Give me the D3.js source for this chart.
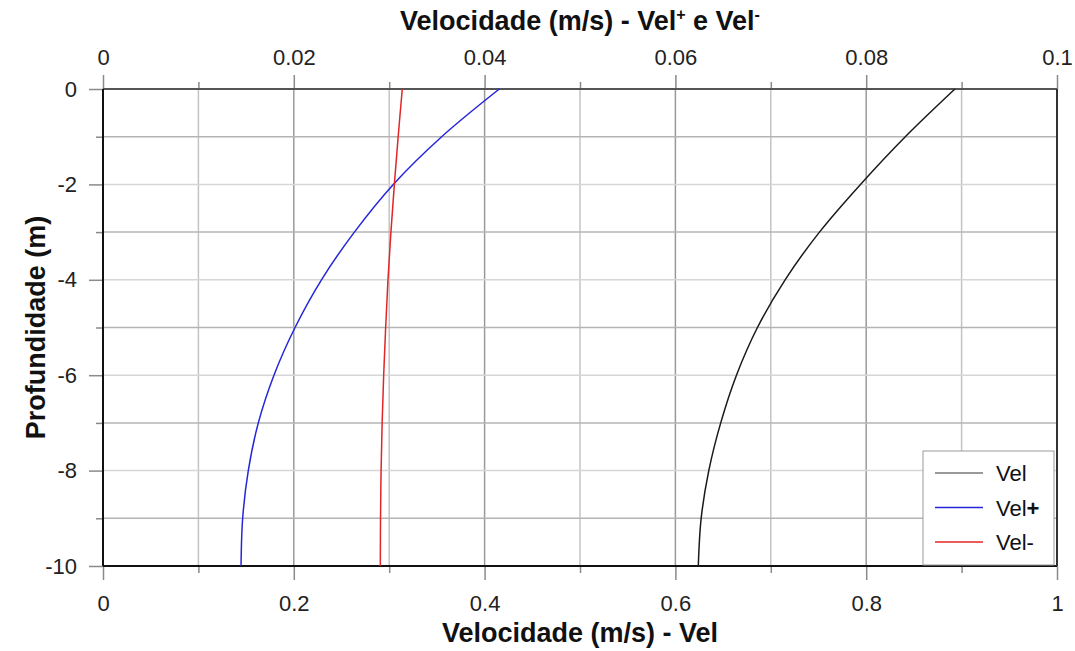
<!DOCTYPE html>
<html>
<head>
<meta charset="utf-8">
<script src="https://cdn.jsdelivr.net/npm/d3@7/dist/d3.min.js"></script>
<style>
  html, body { margin: 0; padding: 0; background: #fff; }
  svg { display: block; font-family: "Liberation Sans", Arial, sans-serif; }
</style>
</head>
<body>
<svg id="chart" width="1075" height="651"></svg>
<script>
// Depth profile (m) and velocities (m/s)
const depths   = [0, -1, -2, -3, -4, -5, -6, -7, -8, -9, -10];
const vel      = [0.893, 0.841, 0.794, 0.751, 0.715, 0.686, 0.664, 0.6475, 0.635, 0.627, 0.624];
const velPlus  = [0.04154, 0.0355, 0.03043, 0.02635, 0.0229, 0.02013, 0.01792, 0.01628, 0.01523, 0.01464, 0.01447];
const velMinus = [0.03137, 0.03094, 0.03054, 0.03018, 0.02987, 0.02963, 0.02942, 0.02926, 0.02915, 0.02909, 0.02907];

const bottomTicks = [0, 0.2, 0.4, 0.6, 0.8, 1];
const topTicks    = [0, 0.02, 0.04, 0.06, 0.08, 0.1];
const depthTicks  = [0, -2, -4, -6, -8, -10];

const legendItems = [
  { label: "Vel",  sign: "",  color: "#777777" },
  { label: "Vel",  sign: "+", color: "#2626d9" },
  { label: "Vel",  sign: "-", color: "#e02626" }
];

const svg = d3.select("#chart");
const pLeft = 103, pRight = 1057, pTop = 89, pBottom = 566;

const xBottom = d3.scaleLinear().domain([0, 1]).range([pLeft, pRight]);
const xTop    = d3.scaleLinear().domain([0, 0.1]).range([pLeft, pRight]);
const y       = d3.scaleLinear().domain([0, -10]).range([pTop, pBottom]);

const fmt = d => String(+d.toFixed(4));

// Grid: vertical every 0.1, horizontal every 1 m
const gx = d3.range(1, 10).map(i => i / 10);
svg.append("g").selectAll("line").data(gx).join("line")
  .attr("x1", d => xBottom(d)).attr("x2", d => xBottom(d))
  .attr("y1", pTop).attr("y2", pBottom)
  .attr("stroke", (d, i) => (i % 2 === 1) ? "#9a9a9a" : "#c4c4c4")
  .attr("stroke-width", 1.5);

const gy = d3.range(-1, -10, -1);
svg.append("g").selectAll("line").data(gy).join("line")
  .attr("x1", pLeft).attr("x2", pRight)
  .attr("y1", d => y(d)).attr("y2", d => y(d))
  .attr("stroke", d => (Math.abs(d) % 2 === 1) ? "#b4b4b4" : "#d6d6d6")
  .attr("stroke-width", 1.5);

// Axes
const tickStyle = g => {
  g.attr("font-size", 22);
  g.select(".domain").remove();
  g.selectAll(".tick line").attr("stroke", "#8a8a8a").attr("stroke-width", 1.5);
  g.selectAll(".tick text").attr("fill", "#222").attr("font-size", 22);
};

// major + minor ticks drawn separately
const minorBottom = d3.range(1, 10, 2).map(i => i / 10);
const minorTop = minorBottom.map(d => d / 10);
const minorDepth = d3.range(-1, -10, -2);

svg.append("g").attr("transform", `translate(0,${pBottom})`)
  .call(d3.axisBottom(xBottom).tickValues(bottomTicks).tickFormat(fmt).tickSize(14).tickPadding(15))
  .call(tickStyle);
svg.append("g").attr("transform", `translate(0,${pBottom})`)
  .call(d3.axisBottom(xBottom).tickValues(minorBottom).tickFormat("").tickSize(7))
  .call(tickStyle);

svg.append("g").attr("transform", `translate(0,${pTop})`)
  .call(d3.axisTop(xTop).tickValues(topTicks).tickFormat(fmt).tickSize(14).tickPadding(10))
  .call(tickStyle);
svg.append("g").attr("transform", `translate(0,${pTop})`)
  .call(d3.axisTop(xTop).tickValues(minorTop).tickFormat("").tickSize(7))
  .call(tickStyle);

svg.append("g").attr("transform", `translate(${pLeft},0)`)
  .call(d3.axisLeft(y).tickValues(depthTicks).tickFormat(fmt).tickSize(14).tickPadding(12))
  .call(tickStyle);
svg.append("g").attr("transform", `translate(${pLeft},0)`)
  .call(d3.axisLeft(y).tickValues(minorDepth).tickFormat("").tickSize(7))
  .call(tickStyle);

// Frame
svg.append("line").attr("x1", pLeft).attr("x2", pRight).attr("y1", pTop).attr("y2", pTop)
  .attr("stroke", "#555").attr("stroke-width", 2);
svg.append("line").attr("x1", pLeft).attr("x2", pRight).attr("y1", pBottom).attr("y2", pBottom)
  .attr("stroke", "#111").attr("stroke-width", 2);
svg.append("line").attr("x1", pLeft).attr("x2", pLeft).attr("y1", pTop).attr("y2", pBottom)
  .attr("stroke", "#111").attr("stroke-width", 2);
svg.append("line").attr("x1", pRight).attr("x2", pRight).attr("y1", pTop).attr("y2", pBottom)
  .attr("stroke", "#333").attr("stroke-width", 2);

// Curves
const profile = (vals, xs) => d3.line()
  .x((d, i) => xs(vals[i]))
  .y((d, i) => y(depths[i]))
  .curve(d3.curveCatmullRom.alpha(0.5))(depths);

svg.append("path").attr("d", profile(vel, xBottom))
  .attr("fill", "none").attr("stroke", "#1a1a1a").attr("stroke-width", 1.5);
svg.append("path").attr("d", profile(velPlus, xTop))
  .attr("fill", "none").attr("stroke", legendItems[1].color).attr("stroke-width", 1.5);
svg.append("path").attr("d", profile(velMinus, xTop))
  .attr("fill", "none").attr("stroke", legendItems[2].color).attr("stroke-width", 1.5);

// Axis titles
const topTitle = svg.append("text")
  .attr("x", (pLeft + pRight) / 2).attr("y", 30)
  .attr("text-anchor", "middle").attr("font-size", 27).attr("font-weight", "bold").attr("fill", "#111");
topTitle.append("tspan").text("Velocidade (m/s) - Vel");
topTitle.append("tspan").attr("font-size", 16).attr("dy", -10).text("+");
topTitle.append("tspan").attr("dy", 10).text(" e Vel");
topTitle.append("tspan").attr("font-size", 16).attr("dy", -10).text("-");

svg.append("text")
  .attr("x", (pLeft + pRight) / 2).attr("y", 642)
  .attr("text-anchor", "middle").attr("font-size", 27).attr("font-weight", "bold").attr("fill", "#111")
  .text("Velocidade (m/s) - Vel");

svg.append("text")
  .attr("transform", `translate(45,${(pTop + pBottom) / 2}) rotate(-90)`)
  .attr("text-anchor", "middle").attr("font-size", 27).attr("font-weight", "bold").attr("fill", "#111")
  .text("Profundidade (m)");

// Legend
const lg = svg.append("g");
lg.append("rect").attr("x", 923).attr("y", 451).attr("width", 131).attr("height", 114)
  .attr("fill", "#fff").attr("stroke", "#999").attr("stroke-width", 1);
const rows = lg.selectAll("g.row").data(legendItems).join("g")
  .attr("class", "row")
  .attr("transform", (d, i) => `translate(0,${473 + i * 34.5})`);
rows.append("line").attr("x1", 935).attr("x2", 983).attr("y1", 0).attr("y2", 0)
  .attr("stroke", d => d.color).attr("stroke-width", 1.5);
const lt = rows.append("text").attr("x", 996).attr("y", 8).attr("font-size", 22).attr("fill", "#111");
lt.append("tspan").text(d => d.label);
lt.append("tspan").attr("font-weight", d => d.sign === "+" ? "bold" : "normal").text(d => d.sign);
</script>
</body>
</html>
